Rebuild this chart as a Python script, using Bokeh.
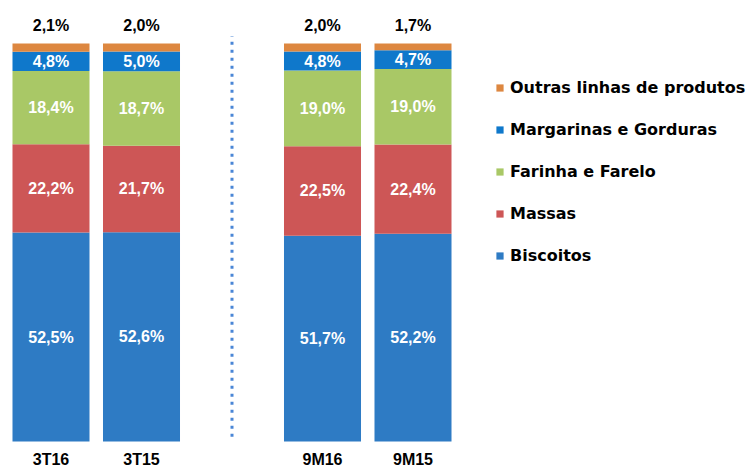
from bokeh.plotting import figure
from bokeh.models import ColumnDataSource, Legend, LegendItem, FixedTicker, Range1d
from bokeh.embed import file_html
from bokeh.resources import INLINE
from bokeh.core.properties import value

# ---- data ----
periods = ["3T16", "3T15", "9M16", "9M15"]
slots = [0, 1, 3, 4]          # slot 2 is the gap between quarter and 9-month groups
biscoitos = [52.5, 52.6, 51.7, 52.2]
massas = [22.2, 21.7, 22.5, 22.4]
farinha = [18.4, 18.7, 19.0, 19.0]
margarinas = [4.8, 5.0, 4.8, 4.7]
outras = [2.1, 2.0, 2.0, 1.7]
series_names = ["Biscoitos", "Massas", "Farinha e Farelo",
                "Margarinas e Gorduras", "Outras linhas de produtos"]
series_vals = [biscoitos, massas, farinha, margarinas, outras]
colors = ["#2E7BC4", "#CD5656", "#A9C866", "#0F78CB", "#DD8740"]

FONT = "Liberation Sans"


def fmt(v):
    return f"{v:.1f}".replace(".", ",") + "%"


W, H = 750, 470
slot_px = 90.5
x_start = -50.5 / slot_px
x_end = x_start + W / slot_px

k = 3.98            # px per percentage point
frame_h = 448
y_start = -(frame_h - 441) / k
y_end = y_start + frame_h / k

p = figure(width=W, height=H, output_backend="svg", toolbar_location=None,
           x_range=Range1d(x_start, x_end), y_range=Range1d(y_start, y_end),
           min_border_left=0, min_border_right=0, min_border_top=0,
           min_border_bottom=0)
p.outline_line_color = None
p.grid.visible = False
p.yaxis.visible = False
p.background_fill_color = "white"
p.border_fill_color = "white"

keys = ["s%d" % i for i in range(len(series_names))]
data = {"x": slots}
for kk, v in zip(keys, series_vals):
    data[kk] = v
src = ColumnDataSource(data)

renderers = p.vbar_stack(keys, x="x", width=0.851, source=src,
                         color=colors, line_color=None)

# inside labels (all segments except the top one)
lx, ly, lt = [], [], []
for i in range(len(slots)):
    base = 0.0
    for j, vals in enumerate(series_vals[:-1]):
        v = vals[i]
        lx.append(slots[i])
        ly.append(base + v / 2)
        lt.append(fmt(v))
        base += v
p.text(x=lx, y=ly, text=lt, text_color="white", text_font=value(FONT),
       text_font_style="bold", text_font_size="16px", text_align="center",
       text_baseline="middle")

# top labels (Outras) above the bars
totals = [sum(s[i] for s in series_vals) for i in range(len(slots))]
p.text(x=slots, y=[t + 4.5 for t in totals], text=[fmt(v) for v in outras],
       text_color="black", text_font=value(FONT), text_font_style="bold",
       text_font_size="16px", text_align="center", text_baseline="middle")

# dotted separator between the groups
sep_x = (slots[1] + slots[2]) / 2
p.segment(x0=[sep_x], y0=[1.2], x1=[sep_x], y1=[max(totals) + 1.8],
          line_color="#4A86D6", line_width=3, line_dash="3 5",
          line_cap="butt")

# x axis with category labels
p.xaxis.ticker = FixedTicker(ticks=slots)
p.xaxis.major_label_overrides = {s: lab for s, lab in zip(slots, periods)}
p.xaxis.axis_line_color = None
p.xaxis.major_tick_line_color = None
p.xaxis.minor_tick_line_color = None
p.xaxis.major_tick_in = 0
p.xaxis.major_tick_out = 0
p.xaxis.major_label_standoff = 2
p.xaxis.major_label_text_font = FONT
p.xaxis.major_label_text_font_style = "bold"
p.xaxis.major_label_text_font_size = "16px"
p.xaxis.major_label_text_color = "black"

items = [LegendItem(label=n, renderers=[r])
         for n, r in zip(series_names, renderers)][::-1]
legend = Legend(items=items, location=(495, 183), orientation="vertical",
                glyph_width=9, glyph_height=9, label_standoff=6, spacing=22,
                label_height=20, padding=0, margin=0, border_line_color=None,
                background_fill_alpha=0, label_text_font="DejaVu Sans",
                label_text_font_style="bold", label_text_font_size="16px",
                label_text_color="black")
p.add_layout(legend)

open("out.html", "w").write(file_html(p, INLINE))
